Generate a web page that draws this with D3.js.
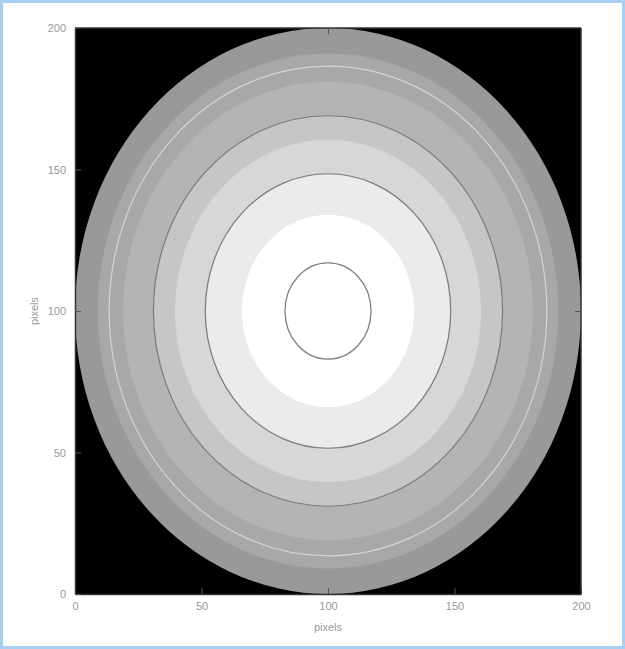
<!DOCTYPE html>
<html>
<head>
<meta charset="utf-8">
<script src="https://cdn.jsdelivr.net/npm/d3@7"></script>
<style>
  html, body { margin: 0; padding: 0; background: #fff; }
  svg { display: block; }
</style>
</head>
<body>
<div id="chart"></div>
<script>
// image is a radial profile centred on (100,100), quantised into grey bands
const center = [100, 100]
const bandRadii = [100, 91, 81, 69, 60.5, 48.5, 34]
const bandGreys = ['#999999', '#a8a8a8', '#b4b4b4', '#c6c6c6', '#d7d7d7', '#ebebeb', '#ffffff']
const contourLevels = [86.5, 69, 48.5, 17]
const contourColors = ['#d4d4d4', '#7a7a7a', '#7a7a7a', '#7a7a7a']
const xTicks = [0, 50, 100, 150, 200]
const yTicks = [0, 50, 100, 150, 200]

const W = 625, H = 649
const plot = { left: 75, right: 581, top: 28, bottom: 594 }
const labelColor = '#999'
const font = 'Liberation Sans, Arial, sans-serif'

const svg = d3.select('#chart').append('svg')
  .attr('width', W)
  .attr('height', H)

// light blue frame round the screenshot
svg.append('rect')
  .attr('x', 1.5).attr('y', 1.5)
  .attr('width', W - 3).attr('height', H - 3)
  .attr('fill', '#fff')
  .attr('stroke', '#a6cff2')
  .attr('stroke-width', 3)

const x = d3.scaleLinear().domain([0, 200]).range([plot.left, plot.right])
const y = d3.scaleLinear().domain([0, 200]).range([plot.bottom, plot.top])

const g = svg.append('g')

g.append('rect')
  .attr('x', plot.left).attr('y', plot.top)
  .attr('width', plot.right - plot.left)
  .attr('height', plot.bottom - plot.top)
  .attr('fill', '#000')

const rx = r => x(center[0] + r) - x(center[0])
const ry = r => y(center[1] - r) - y(center[1])

g.selectAll('ellipse.band')
  .data(bandRadii)
  .enter().append('ellipse')
  .attr('class', 'band')
  .attr('cx', x(center[0])).attr('cy', y(center[1]))
  .attr('rx', d => rx(d)).attr('ry', d => ry(d))
  .attr('fill', (d, i) => bandGreys[i])

g.selectAll('ellipse.contour')
  .data(contourLevels)
  .enter().append('ellipse')
  .attr('class', 'contour')
  .attr('cx', x(center[0])).attr('cy', y(center[1]))
  .attr('rx', d => rx(d)).attr('ry', d => ry(d))
  .attr('fill', 'none')
  .attr('stroke', (d, i) => contourColors[i])
  .attr('stroke-width', 1.2)

// axes, ticks drawn inward
const xAxis = d3.axisBottom(x).tickValues(xTicks).tickSizeInner(-6).tickSizeOuter(0).tickPadding(8)
const yAxis = d3.axisLeft(y).tickValues(yTicks).tickSizeInner(-6).tickSizeOuter(0).tickPadding(9)

const gx = svg.append('g').attr('transform', `translate(0,${plot.bottom})`).call(xAxis)
const gy = svg.append('g').attr('transform', `translate(${plot.left},0)`).call(yAxis)

for (const ax of [gx, gy]) {
  ax.select('.domain').attr('stroke', '#333').attr('stroke-width', 1.5)
  ax.selectAll('.tick line').attr('stroke', '#555')
  ax.selectAll('.tick text')
    .attr('fill', labelColor)
    .style('font-family', font)
    .style('font-size', '11px')
}

// top/right frame
svg.append('line')
  .attr('x1', plot.left).attr('x2', plot.right)
  .attr('y1', plot.top).attr('y2', plot.top)
  .attr('stroke', '#333').attr('stroke-width', 1.5)
svg.append('line')
  .attr('x1', plot.right).attr('x2', plot.right)
  .attr('y1', plot.top).attr('y2', plot.bottom)
  .attr('stroke', '#333').attr('stroke-width', 1.5)
svg.append('g').attr('transform', `translate(0,${plot.top})`)
  .call(d3.axisTop(x).tickValues([100]).tickSizeInner(-6).tickSizeOuter(0).tickFormat(''))
  .call(s => s.select('.domain').remove())
  .selectAll('line').attr('stroke', '#555')
svg.append('g').attr('transform', `translate(${plot.right},0)`)
  .call(d3.axisRight(y).tickValues([100]).tickSizeInner(-6).tickSizeOuter(0).tickFormat(''))
  .call(s => s.select('.domain').remove())
  .selectAll('line').attr('stroke', '#555')

svg.append('text')
  .attr('x', x(100)).attr('y', 631)
  .attr('text-anchor', 'middle')
  .attr('fill', labelColor)
  .style('font-family', font)
  .style('font-size', '11px')
  .text('pixels')

svg.append('text')
  .attr('transform', `translate(38,${y(100)}) rotate(-90)`)
  .attr('text-anchor', 'middle')
  .attr('fill', labelColor)
  .style('font-family', font)
  .style('font-size', '11px')
  .text('pixels')
</script>
</body>
</html>
